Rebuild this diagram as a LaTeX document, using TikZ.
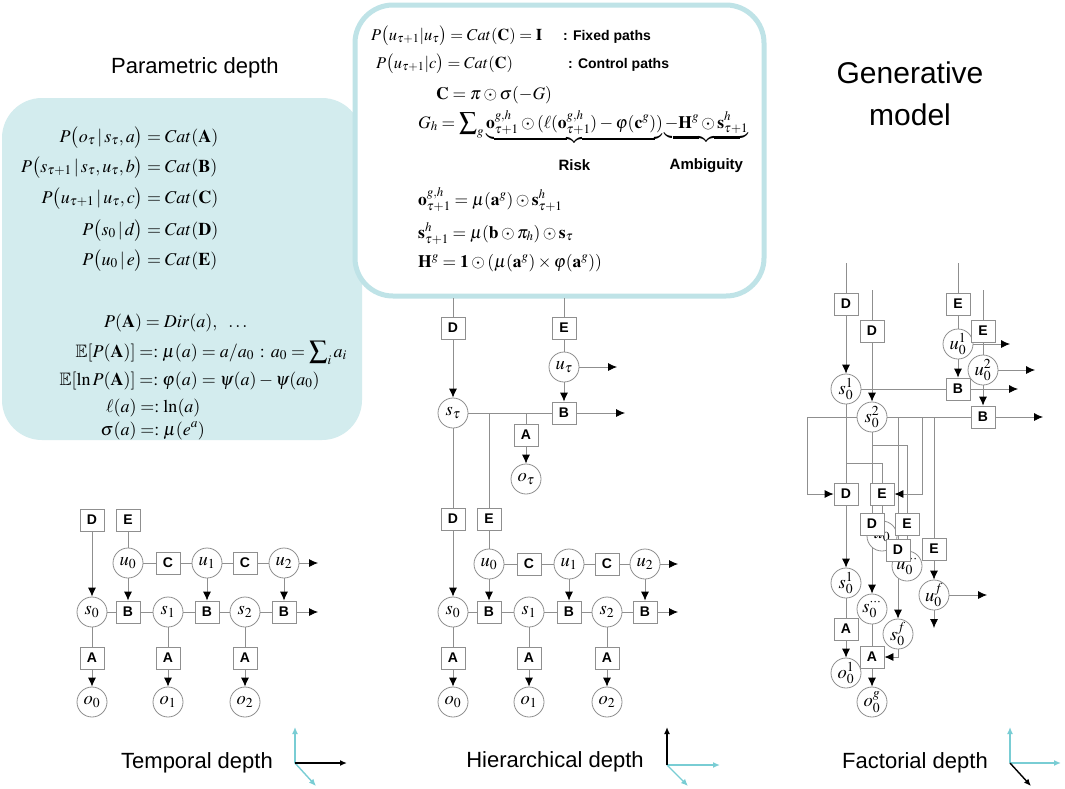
\documentclass[tikz,border=0pt]{standalone}
\usepackage{mathptmx}
\usepackage{amssymb}
\usepackage{fontspec}
\setmainfont{Liberation Serif}
\setsansfont{Liberation Sans}
\usetikzlibrary{arrows.meta}
\definecolor{tealfill}{HTML}{D3ECEE}
\definecolor{tealline}{HTML}{BFE3E7}
\definecolor{axcyan}{HTML}{79CDD4}
\definecolor{lngray}{HTML}{8F8F8F}
\pgfdeclarelayer{back}
\pgfdeclarelayer{lines}
\pgfsetlayers{back,lines,main}
\newcommand\EQ[3]{\llap{$\displaystyle #1\;$}$#2$\rlap{$\displaystyle\;#3$}}
\newcommand\RL[1]{\mbox{\sffamily\bfseries\fontsize{15}{15}\selectfont\rule{0pt}{25pt}#1}}
\begin{document}
\begin{tikzpicture}[x=1pt,y=-1pt,
  cn/.style={circle,draw=lngray,line width=0.8pt,fill=white,minimum size=30pt,inner sep=0pt,font=\fontsize{18.5}{18.5}\selectfont},
  bx/.style={rectangle,draw=lngray,line width=0.8pt,fill=white,minimum width=24pt,minimum height=22pt,inner sep=0pt,font=\sffamily\bfseries\fontsize{14}{14}\selectfont},
  ln/.style={draw=lngray,line width=0.8pt},
  ar/.style={ln,-{Latex[length=9pt,width=8pt,color=black]}},
  ttl/.style={font=\sffamily\fontsize{22}{26}\selectfont,inner sep=0pt},
  eqn/.style={anchor=base,inner sep=0pt,font=\fontsize{18}{18}\selectfont},
  eqt/.style={anchor=base west,inner sep=0pt,font=\fontsize{17.5}{17.5}\selectfont},
  lab/.style={anchor=base west,inner sep=0pt,font=\sffamily\bfseries\fontsize{14}{14}\selectfont},
  axk/.style={line width=1.4pt,black,-{Latex[length=7pt,width=6pt]}},
  axc/.style={line width=1.4pt,axcyan,-{Latex[length=7pt,width=6pt]}}]
\useasboundingbox (0,0) rectangle (1065,788);
\begin{pgfonlayer}{back}
\fill[white] (0,0) rectangle (1065,788);
\fill[tealfill,rounded corners=40pt] (2,98) rectangle (362,440);
\draw[tealline,line width=5pt,fill=white,rounded corners=38pt] (355,5) rectangle (764,296);
\end{pgfonlayer}

% titles
\node[ttl] (tpar) at (195,68) {Parametric depth};
\node[ttl,font=\sffamily\fontsize{30}{42}\selectfont,align=center] (tgen) at (910,94) {Generative\\model};
\node[ttl] (ttemp) at (197,763) {Temporal depth};
\node[ttl] (thier) at (555,762) {Hierarchical depth};
\node[ttl] (tfac) at (915,763) {Factorial depth};

% left equations
\node[eqn] (l1) at (154,142) {\EQ{P\bigl(o_\tau\,|\,s_\tau,a\bigr)}{=}{Cat(\mathbf{A})}};
\node[eqn] (l2) at (154,172) {\EQ{P\bigl(s_{\tau+1}\,|\,s_\tau,u_\tau,b\bigr)}{=}{Cat(\mathbf{B})}};
\node[eqn] (l3) at (154,203) {\EQ{P\bigl(u_{\tau+1}\,|\,u_\tau,c\bigr)}{=}{Cat(\mathbf{C})}};
\node[eqn] (l4) at (154,235) {\EQ{P\bigl(s_0\,|\,d\bigr)}{=}{Cat(\mathbf{D})}};
\node[eqn] (l5) at (154,265) {\EQ{P\bigl(u_0\,|\,e\bigr)}{=}{Cat(\mathbf{E})}};
\node[eqn] (l6) at (153,327) {\EQ{P(\mathbf{A})}{=}{Dir(a),\ \ \ldots}};
\node[eqn] (l7) at (149,357) {\EQ{\mathbb{E}[P(\mathbf{A})]}{=:}{\mu(a)=a/a_0\,:\,a_0=\sum\nolimits_i a_i}};
\node[eqn] (l8) at (149,385) {\EQ{\mathbb{E}[\ln P(\mathbf{A})]}{=:}{\varphi(a)=\psi(a)-\psi(a_0)}};
\node[eqn] (l9) at (150,412) {\EQ{\ell(a)}{=:}{\ln(a)}};
\node[eqn] (l10) at (150,435) {\EQ{\sigma(a)}{=:}{\mu(e^a)}};

% top box equations
\node[eqt,font=\fontsize{16.5}{16.5}\selectfont] (r1) at (371,40) {$P\bigl(u_{\tau+1}|u_\tau\bigr)=Cat(\mathbf{C})=\mathbf{I}$};
\node[lab] (r1l) at (563,40) {: Fixed paths};
\node[eqt,font=\fontsize{16.5}{16.5}\selectfont] (r2) at (376,68) {$P\bigl(u_{\tau+1}|c\bigr)=Cat(\mathbf{C})$};
\node[lab] (r2l) at (568,68) {: Control paths};
\node[eqt] (r3) at (436,99) {$\mathbf{C}=\pi\odot\sigma(-G)$};
\node[eqt] (r4) at (418,128) {$G_h=\displaystyle\sum\nolimits_g\underbrace{\mathbf{o}^{g,h}_{\tau+1}\odot(\ell(\mathbf{o}^{g,h}_{\tau+1})-\varphi(\mathbf{c}^g))}_{\RL{Risk}}\underbrace{-\mathbf{H}^g\odot\mathbf{s}^h_{\tau+1}}_{\RL{Ambiguity}}$};
\node[eqt] (r5) at (418,205) {$\mathbf{o}^{g,h}_{\tau+1}=\mu(\mathbf{a}^g)\odot\mathbf{s}^h_{\tau+1}$};
\node[eqt] (r6) at (418,238) {$\mathbf{s}^h_{\tau+1}=\mu(\mathbf{b}\odot\pi_h)\odot\mathbf{s}_\tau$};
\node[eqt] (r7) at (418,267) {$\mathbf{H}^g=\mathbf{1}\odot(\mu(\mathbf{a}^g)\times\varphi(\mathbf{a}^g))$};

% ---------------- temporal depth
\node[bx] (tD) at (92,520) {D};
\node[bx] (tE) at (128,520) {E};
\node[cn] (tu0) at (128,563) {$u_0$};
\node[bx] (tC1) at (168,563) {C};
\node[cn] (tu1) at (207,563) {$u_1$};
\node[bx] (tC2) at (245,563) {C};
\node[cn] (tu2) at (284,563) {$u_2$};
\node[cn] (ts0) at (92,612) {$s_0$};
\node[bx] (tB0) at (128,612) {B};
\node[cn] (ts1) at (168,612) {$s_1$};
\node[bx] (tB1) at (207,612) {B};
\node[cn] (ts2) at (245,612) {$s_2$};
\node[bx] (tB2) at (284,612) {B};
\node[bx] (tA0) at (92,658) {A};
\node[bx] (tA1) at (168,658) {A};
\node[bx] (tA2) at (245,658) {A};
\node[cn] (to0) at (92,702) {$o_0$};
\node[cn] (to1) at (168,702) {$o_1$};
\node[cn] (to2) at (245,702) {$o_2$};
\coordinate (tuE) at (318,563);
\coordinate (tsE) at (318,612);

% ---------------- hierarchical depth
\coordinate (hDt) at (453,298);
\coordinate (hEt) at (564,298);
\node[bx] (hD) at (453,328) {D};
\node[bx] (hE) at (564,328) {E};
\node[cn] (hut) at (564,367) {$u_\tau$};
\node[cn] (hst) at (453,413) {$s_\tau$};
\node[bx] (hB) at (564,413) {B};
\node[bx] (hA) at (526,435) {A};
\node[cn] (hot) at (526,479) {$o_\tau$};
\coordinate (hutE) at (617,367);
\coordinate (hBE) at (625,413);
\coordinate (hjA) at (526,413);
\coordinate (hjE) at (489,413);
\node[bx] (hD0) at (453,519) {D};
\node[bx] (hE0) at (489,519) {E};
\node[cn] (hu0) at (489,564) {$u_0$};
\node[bx] (hC1) at (529,564) {C};
\node[cn] (hu1) at (569,564) {$u_1$};
\node[bx] (hC2) at (607,564) {C};
\node[cn] (hu2) at (645,564) {$u_2$};
\node[cn] (hs0) at (453,612) {$s_0$};
\node[bx] (hB0) at (489,612) {B};
\node[cn] (hs1) at (529,612) {$s_1$};
\node[bx] (hB1) at (569,612) {B};
\node[cn] (hs2) at (607,612) {$s_2$};
\node[bx] (hB2) at (645,612) {B};
\node[bx] (hA0) at (453,658) {A};
\node[bx] (hA1) at (529,658) {A};
\node[bx] (hA2) at (607,658) {A};
\node[cn] (ho0) at (453,702) {$o_0$};
\node[cn] (ho1) at (529,702) {$o_1$};
\node[cn] (ho2) at (607,702) {$o_2$};
\coordinate (huE) at (678,564);
\coordinate (hsE) at (678,612);

% ---------------- factorial depth
\coordinate (fD1t) at (846,263);
\coordinate (fD2t) at (872,290);
\coordinate (fE1t) at (958,263);
\coordinate (fE2t) at (983,290);
\node[bx] (fD1) at (846,304) {D};
\node[bx] (fD2) at (872,331) {D};
\node[bx] (fE1) at (958,304) {E};
\node[cn] (fu1) at (958,344) {$u_0^1$};
\node[bx] (fE2) at (983,331) {E};
\node[cn] (fu2) at (983,370) {$u_0^2$};
\node[cn] (fs1) at (846,389) {$s_0^1$};
\node[bx] (fB1) at (958,389) {B};
\node[cn] (fs2) at (872,417) {$s_0^2$};
\node[bx] (fB2) at (983,417) {B};
\node[cn] (fuh) at (882,536) {$u_0$};
\node[bx] (fD3) at (846,494) {D};
\node[bx] (fE3) at (882,494) {E};
\node[bx] (fD4) at (872,524) {D};
\node[bx] (fE4) at (907,524) {E};
\node[cn] (fud) at (907,566) {$u_0^{\cdots}$};
\node[bx] (fD5) at (898,550) {D};
\node[bx] (fE5) at (934,549) {E};
\node[cn] (fs1b) at (846,583) {$s_0^1$};
\node[cn] (fsd) at (872,609) {$s_0^{\cdots}$};
\node[cn] (fuf) at (934,595) {$u_0^f$};
\node[cn] (fsf) at (898,634) {$s_0^f$};
\node[bx] (fA1) at (846,629) {A};
\node[bx] (fA2) at (872,657) {A};
\node[cn] (fo1) at (846,673) {$o_0^1$};
\node[cn] (fog) at (872,702) {$o_0^g$};
\coordinate (fu1E) at (1010,344);
\coordinate (fu2E) at (1035,370);
\coordinate (fB1E) at (1018,389);
\coordinate (fB2E) at (1043,417);
\coordinate (fL) at (807,417);
\coordinate (fj1) at (846,463);
\coordinate (fj2) at (872,445);
\coordinate (fj3) at (898,417);
\coordinate (fj4) at (922,417);
\coordinate (fj5) at (934,417);
\coordinate (fufE) at (987,595);
\coordinate (fufS) at (934,628);

% axes icons
\coordinate (tO) at (295,763); \coordinate (tX) at (347,763);
\coordinate (tY) at (295,727); \coordinate (tZ) at (316,786);
\coordinate (hO) at (667,765); \coordinate (hX) at (720,765);
\coordinate (hY) at (667,727); \coordinate (hZ) at (688,786);
\coordinate (fO) at (1010,763); \coordinate (fX) at (1061,763);
\coordinate (fY) at (1010,727); \coordinate (fZ) at (1031,786);
\draw[axc] (tO) -- (tY); \draw[axc] (tO) -- (tZ); \draw[axk] (tO) -- (tX);
\draw[axc] (hO) -- (hX); \draw[axc] (hO) -- (hZ); \draw[axk] (hO) -- (hY);
\draw[axc] (fO) -- (fY); \draw[axc] (fO) -- (fX); \draw[axk] (fO) -- (fZ);

\begin{pgfonlayer}{lines}
% temporal
\draw[ar] (tD) -- (ts0);
\draw[ln] (tE) -- (tu0);
\draw[ln] (tu0) -- (tC1) -- (tu1) -- (tC2) -- (tu2);
\draw[ar] (tu2) -- (tuE);
\draw[ar] (tu0) -- (tB0);
\draw[ar] (tu1) -- (tB1);
\draw[ar] (tu2) -- (tB2);
\draw[ln] (ts0) -- (tB0) -- (ts1) -- (tB1) -- (ts2) -- (tB2);
\draw[ar] (tB2) -- (tsE);
\draw[ln] (ts0) -- (tA0); \draw[ar] (tA0) -- (to0);
\draw[ln] (ts1) -- (tA1); \draw[ar] (tA1) -- (to1);
\draw[ln] (ts2) -- (tA2); \draw[ar] (tA2) -- (to2);
% hierarchical
\draw[ln] (hDt) -- (hD);
\draw[ln] (hEt) -- (hE);
\draw[ar] (hD) -- (hst);
\draw[ln] (hE) -- (hut);
\draw[ar] (hut) -- (hB);
\draw[ar] (hut) -- (hutE);
\draw[ln] (hst) -- (hB);
\draw[ar] (hB) -- (hBE);
\draw[ln] (hjA) -- (hA);
\draw[ar] (hA) -- (hot);
\draw[ln] (hjE) -- (hE0);
\draw[ln] (hst) -- (hD0);
\draw[ar] (hD0) -- (hs0);
\draw[ln] (hE0) -- (hu0);
\draw[ln] (hu0) -- (hC1) -- (hu1) -- (hC2) -- (hu2);
\draw[ar] (hu2) -- (huE);
\draw[ar] (hu0) -- (hB0);
\draw[ar] (hu1) -- (hB1);
\draw[ar] (hu2) -- (hB2);
\draw[ln] (hs0) -- (hB0) -- (hs1) -- (hB1) -- (hs2) -- (hB2);
\draw[ar] (hB2) -- (hsE);
\draw[ln] (hs0) -- (hA0); \draw[ar] (hA0) -- (ho0);
\draw[ln] (hs1) -- (hA1); \draw[ar] (hA1) -- (ho1);
\draw[ln] (hs2) -- (hA2); \draw[ar] (hA2) -- (ho2);
% factorial
\draw[ln] (fD1t) -- (fD1);
\draw[ln] (fD2t) -- (fD2);
\draw[ln] (fE1t) -- (fE1);
\draw[ln] (fE2t) -- (fE2);
\draw[ar] (fD1) -- (fs1);
\draw[ar] (fD2) -- (fs2);
\draw[ln] (fE1) -- (fu1);
\draw[ar] (fu1) -- (fB1);
\draw[ln] (fE2) -- (fu2);
\draw[ar] (fu2) -- (fB2);
\draw[ar] (fu1) -- (fu1E);
\draw[ar] (fu2) -- (fu2E);
\draw[ln] (fs1) -- (fB1);
\draw[ar] (fB1) -- (fB1E);
\draw[ln] (fs2) -- (fB2);
\draw[ar] (fB2) -- (fB2E);
\draw[ar] (fs2.west) -- (fL) |- (fD3);
\draw[ln] (fs1) -- (fD3);
\draw[ln] (fj1) -| (fE3);
\draw[ln] (fs2) -- (fD4);
\draw[ln] (fj2) -| (fE4);
\draw[ln] (fj3) -- (fD5);
\draw[ar] (fj4) |- (fE3);
\draw[ln] (fj5) -- (fE5);
\draw[ln] (fE3) -- (fuh);
\draw[ln] (fE4) -- (fud);
\draw[ar] (fD3) -- (fs1b);
\draw[ar] (fD4) -- (fsd);
\draw[ar] (fD5) -- (fsf);
\draw[ar] (fE5) -- (fuf);
\draw[ar] (fuf) -- (fufE);
\draw[ar] (fuf) -- (fufS);
\draw[ln] (fs1b) -- (fA1);
\draw[ar] (fA1) -- (fo1);
\draw[ln] (fsd) -- (fA2);
\draw[ar] (fA2) -- (fog);
\draw[ar] (fsf) |- (fA2);
\end{pgfonlayer}
\end{tikzpicture}
\end{document}
